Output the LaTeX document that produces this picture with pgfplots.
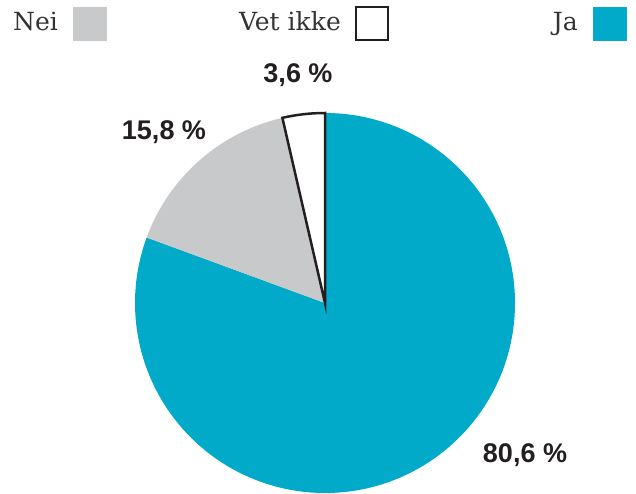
\documentclass[border=0pt]{standalone}
\usepackage{pgfplots}
\usepackage{pgfplotstable}
\pgfplotsset{compat=1.18}
\usepackage{fontspec}
\setmainfont{Liberation Sans}
\newfontfamily\legfont{DejaVu Serif}
\definecolor{jablue}{HTML}{00AAC8}
\definecolor{neigrey}{HTML}{C8C9CB}
\definecolor{edge}{HTML}{231F20}
\pgfplotstableread{
label value
Ja 80.6
Nei 15.8
Vetikke 3.6
}\piedata
\pgfplotstablegetelem{0}{value}\of\piedata \let\vJa\pgfplotsretval
\pgfplotstablegetelem{1}{value}\of\piedata \let\vNei\pgfplotsretval
\pgfplotstablegetelem{2}{value}\of\piedata \let\vVet\pgfplotsretval
\pgfmathsetmacro{\aA}{90}
\pgfmathsetmacro{\aB}{90-3.6*\vJa}
\pgfmathsetmacro{\aC}{\aB-3.6*\vNei}
\pgfmathsetmacro{\aD}{\aC-3.6*\vVet}
\begin{document}
\begin{tikzpicture}
\begin{axis}[hide axis, scale only axis, x=1pt, y=1pt,
  xmin=0, xmax=636, ymin=0, ymax=493, clip=false]
\addplot[draw=none] coordinates {(0,0) (636,493)};
% slices
\fill[jablue] (axis cs:325,190) -- ++(\aA:190pt) arc[start angle=\aA, end angle=\aB, radius=190pt] -- cycle;
\fill[neigrey] (axis cs:325,190) -- ++(\aB:190pt) arc[start angle=\aB, end angle=\aC, radius=190pt] -- cycle;
\filldraw[fill=white, draw=edge, line width=2.5pt, line join=miter] (axis cs:325,190) -- ++(\aC:190pt) arc[start angle=\aC, end angle=\aD, radius=190pt] -- cycle;
% value labels
\node[font=\fontsize{27}{30}\selectfont\bfseries, text=edge] at (axis cs:298,418) {3,6 \%};
\node[font=\fontsize{27}{30}\selectfont\bfseries, text=edge] at (axis cs:164,361) {15,8 \%};
\node[font=\fontsize{27}{30}\selectfont\bfseries, text=edge] at (axis cs:525,38) {80,6 \%};
% legend
\fill[neigrey] (axis cs:73,452) rectangle (axis cs:107,486);
\draw[edge, line width=2.5pt] (axis cs:356,453) rectangle (axis cs:388,486);
\fill[jablue] (axis cs:593,452) rectangle (axis cs:627,486);
\node[font=\legfont\fontsize{25}{30}\selectfont, text=black!80, anchor=base east, inner sep=0pt] at (axis cs:58,462) {Nei};
\node[font=\legfont\fontsize{25}{30}\selectfont, text=black!80, anchor=base east, inner sep=0pt] at (axis cs:341,462) {Vet ikke};
\node[font=\legfont\fontsize{25}{30}\selectfont, text=black!80, anchor=base east, inner sep=0pt] at (axis cs:578,462) {Ja};
\end{axis}
\end{tikzpicture}
\end{document}
